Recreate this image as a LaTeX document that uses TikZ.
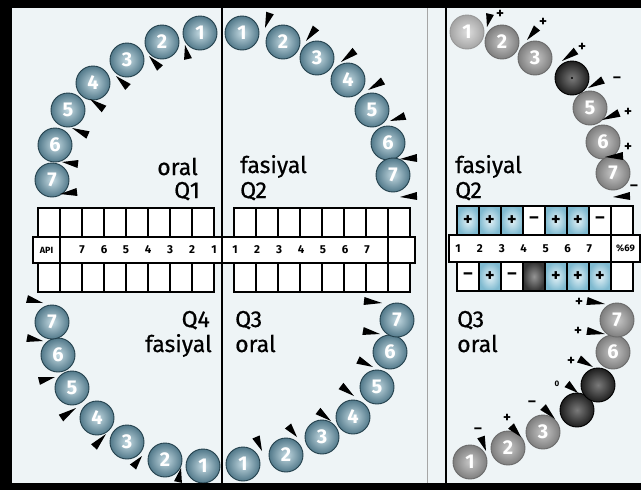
\documentclass[tikz,border=0pt]{standalone}
\usepackage{fontspec}
\setmainfont{Fira Sans}
\newfontfamily\lblfont{Fira Sans}[FakeBold=0.6]
\usetikzlibrary{calc}
\definecolor{paper}{HTML}{EEF4F6}
\definecolor{toothin}{HTML}{C4DAE2}
\definecolor{toothout}{HTML}{52798A}
\definecolor{toothline}{HTML}{23404C}
\definecolor{greyin}{HTML}{C8C8C8}
\definecolor{greyout}{HTML}{7E7E7E}
\definecolor{greyline}{HTML}{6A6A6A}
\definecolor{darkin}{HTML}{7A7A7A}
\definecolor{darkout}{HTML}{1E1E1E}
\definecolor{cellin}{HTML}{E4F2F7}
\definecolor{cellout}{HTML}{7FBAD0}
\newcommand\wdg[2]{\fill[wedgefill] (#1) -- ($(#2)!4pt!90:(#1)$) -- ($(#2)!4pt!-90:(#1)$) -- cycle;}
\begin{document}
\begin{tikzpicture}[x=1pt,y=-1pt,
  tooth/.style={circle, minimum size=34pt, inner sep=0pt, draw=toothline, line width=0.9pt,
    inner color=toothin, outer color=toothout, text=white,
    font=\fontsize{20}{20}\selectfont\bfseries},
  gtooth/.style={tooth, draw=greyline, inner color=greyin, outer color=greyout},
  dtooth/.style={tooth, draw=black, inner color=darkin, outer color=darkout},
  wedgefill/.style={fill=black},
  lbl/.style={inner sep=0pt, font=\lblfont\fontsize{23}{23}\selectfont},
  cell/.style={draw=black, line width=1.3pt, fill=white, minimum width=22pt, minimum height=29pt, inner sep=0pt,
    font=\fontsize{18}{18}\selectfont\bfseries},
  bcell/.style={cell, inner color=cellin, outer color=cellout},
  gcell/.style={cell, inner color=darkin!80!white, outer color=darkout!90!white},
  num/.style={inner sep=0pt, font=\fontsize{11.5}{11.5}\selectfont\bfseries},
  sgn/.style={inner sep=0pt, font=\fontsize{15}{15}\selectfont\bfseries},
  strip/.style={draw=black, line width=1.3pt, fill=white}]

\useasboundingbox (0,0) rectangle (641,490);
\fill[paper] (0,0) rectangle (641,490);

% ---------- left panel: tables ----------
\foreach \k in {0,...,7} {
  \node[cell] (lu\k) at (49+22*\k,222.5) {};
  \node[cell] (ll\k) at (49+22*\k,277.5) {};
  \node[cell] (ru\k) at (245+22*\k,222.5) {};
  \node[cell] (rl\k) at (245+22*\k,277.5) {};
}
\filldraw[strip] (33,237) rectangle (415,263);
\draw[line width=1.3pt] (60,237) -- (60,263) (388,237) -- (388,263);
\node[num, font=\fontsize{9}{9}\selectfont\bfseries] (api) at (46.5,250) {API};
\foreach \n [count=\i from 0] in {7,6,5,4,3,2,1}
  \node[num] (ln\n) at (82+22*\i,250) {\n};
\foreach \n [count=\i from 0] in {1,2,3,4,5,6,7}
  \node[num] (rn\n) at (235+22*\i,250) {\n};

% midline
\draw[line width=2pt] (222,8) -- (222,483);

% ---------- left panel: teeth ----------
\foreach \n/\x/\y in {1/200/33,2/162/42,3/127/60,4/93/83,5/68/110,6/55/145,7/52/180}
  \node[tooth] (a\n) at (\x,\y) {\n};
\foreach \n/\x/\y in {1/242/33,2/283/42,3/317/58,4/348/80,5/372/110,6/388/143,7/393/175}
  \node[tooth] (b\n) at (\x,\y) {\n};
\foreach \n/\x/\y in {1/243/464,2/286/455,3/322/437,4/353/417,5/377/387,6/390/352,7/397/320}
  \node[tooth] (c\n) at (\x,\y) {\n};
\foreach \n/\x/\y in {1/203/466,2/165/460,3/127/442,4/97/418,5/72/388,6/58/355,7/52/322}
  \node[tooth] (d\n) at (\x,\y) {\n};

% wedges, quadrant 1 (oral side)
\wdg{185,45}{188,59}\wdg{149,56}{160,68}\wdg{116,76}{128,87}\wdg{90,99}{104,109}
\wdg{72,128}{88,135}\wdg{62,162}{78,164}\wdg{60,194}{77,192}
% quadrant 2 (facial side)
\wdg{265,28}{270,13}\wdg{306,41}{316,28}\wdg{341,62}{355,51}\wdg{368,90}{383,81}
\wdg{390,121}{405,116}\wdg{400,159}{417,158}\wdg{400,197}{417,196}
% quadrant 3 (oral side)
\wdg{382,303}{364,301}\wdg{380,334}{363,331}\wdg{373,367}{358,360}\wdg{354,396}{341,386}
\wdg{331,421}{318,411}\wdg{297,437}{288,426}\wdg{262,451}{256,437}
% quadrant 4 (facial side)
\wdg{43,303}{27,299}\wdg{43,341}{27,338}\wdg{55,377}{39,381}\wdg{76,408}{61,418}
\wdg{106,434}{94,447}\wdg{142,456}{133,467}\wdg{181,468}{178,482}

% quadrant labels
\node[lbl, anchor=base east] (o1) at (198,175) {oral};
\node[lbl, anchor=base east] (q1) at (200,198) {Q1};
\node[lbl, anchor=base west] (f2) at (240,173) {fasiyal};
\node[lbl, anchor=base west] (q2) at (240,198) {Q2};
\node[lbl, anchor=base east] (q4) at (210,327) {Q4};
\node[lbl, anchor=base east] (f4) at (212,352) {fasiyal};
\node[lbl, anchor=base west] (q3) at (235,327) {Q3};
\node[lbl, anchor=base west] (o3) at (235,352) {oral};

% ---------- panel separators ----------
\draw[line width=1pt, black!35] (427,8) -- (427,483);
\draw[line width=2.4pt] (446,8) -- (446,483);

% ---------- right panel: table ----------
\foreach \s/\k in {+/0,+/1,+/2} \node[bcell] (su\k) at (468+22*\k,220.5) {\s};
\node[cell] (su3) at (534,220.5) {–};
\foreach \s/\k in {+/4,+/5} \node[bcell] (su\k) at (468+22*\k,220.5) {\s};
\node[cell] (su6) at (600,220.5) {–};
\node[cell] (su7) at (622,220.5) {};
\node[cell] (sl0) at (468,276.5) {–};
\node[bcell] (sl1) at (490,276.5) {+};
\node[cell] (sl2) at (512,276.5) {–};
\node[gcell] (sl3) at (534,276.5) {};
\foreach \k in {4,5,6} \node[bcell] (sl\k) at (468+22*\k,276.5) {+};
\node[cell] (sl7) at (622,276.5) {};
\filldraw[strip] (449,235) rectangle (640,262);
\draw[line width=1.3pt] (611,235) -- (611,262);
\foreach \n [count=\i from 0] in {1,2,3,4,5,6,7}
  \node[num] (sn\n) at (458+21.9*\i,248.5) {\n};
\node[num, font=\fontsize{9.5}{9.5}\selectfont\bfseries] (pct) at (625.5,248.5) {\%69};

% ---------- right panel: teeth ----------
\node[gtooth, inner color=greyin!60!white, outer color=greyout!70!white, draw=greyline!70!white] (e1) at (467,32) {1};
\foreach \n/\x/\y in {2/502/42,3/535/58,5/590/108,6/603/142,7/613/173}
  \node[gtooth] (e\n) at (\x,\y) {\n};
\node[dtooth] (e4) at (572,78) {};
\fill[black] (e4.center) circle (1.2pt);
\foreach \n/\x/\y in {1/470/462,2/508/448,3/543/432,6/613/352,7/617/320}
  \node[gtooth] (f\n) at (\x,\y) {\n};
\node[dtooth] (f4) at (577,410) {};
\node[dtooth] (f5) at (598,385) {};

% wedges and signs, upper arch
\wdg{487,27}{490,14}\wdg{527,40}{537,28}\wdg{562,61}{576,51}\wdg{588,88}{603,80}
\wdg{602,120}{619,113}\wdg{605,157}{623,156}\wdg{613,197}{630,196}
\node[sgn] (p1) at (500,14) {+};
\node[sgn] (p2) at (543,22) {+};
\node[sgn] (p3) at (582,47) {+};
\node[sgn] (p4) at (617,80) {–};
\node[sgn] (p5) at (628,112) {+};
\node[sgn] (p6) at (628,147) {+};
\node[sgn] (p7) at (634,188) {–};
% wedges and signs, lower arch
\wdg{605,304}{587,301}\wdg{605,334}{587,331}\wdg{593,367}{579,359}\wdg{578,393}{567,384}
\wdg{555,419}{543,407}\wdg{521,437}{511,426}\wdg{486,451}{481,437}
\node[sgn] (m7) at (579,302) {+};
\node[sgn] (m6) at (578,331) {+};
\node[sgn] (m5) at (571,361) {+};
\node[num, font=\fontsize{8}{8}\selectfont\bfseries] (m4) at (557,384) {0};
\node[sgn] (m3) at (532,404) {–};
\node[sgn] (m2) at (507,418) {+};
\node[sgn] (m1) at (478,431) {–};

\node[lbl, anchor=base west] (f2r) at (455,173) {fasiyal};
\node[lbl, anchor=base west] (q2r) at (455,198) {Q2};
\node[lbl, anchor=base west] (q3r) at (457,327) {Q3};
\node[lbl, anchor=base west] (o3r) at (457,352) {oral};

% ---------- frame ----------
\fill[black] (0,0) rectangle (641,8);
\fill[black] (0,483) rectangle (641,490);
\fill[black] (0,0) rectangle (12,490);
\end{tikzpicture}
\end{document}
